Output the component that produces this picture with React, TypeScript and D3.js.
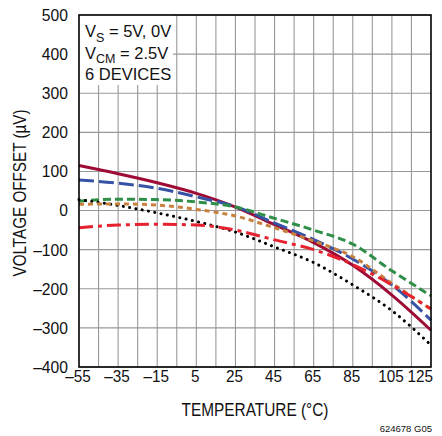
import React from "react";
import * as d3 from "d3";

const TEMPS = [-55, -35, -15, 5, 25, 45, 65, 85, 105, 125];
const DEV_SOLID = [115, 94, 71, 44, 9, -36, -82, -140, -216, -306];
const DEV_LONGDASH = [78, 70, 57, 35, 10, -32, -74, -124, -190, -280];
const DEV_GREEN = [24, 29, 28, 22, 9, -20, -50, -86, -154, -218];
const DEV_ORANGE = [16, 17, 14, 3, -14, -44, -78, -118, -186, -252];
const DEV_DASHDOT = [-44, -37, -35, -37, -50, -75, -100, -138, -190, -252];
const DEV_DOTTED = [28, 13, -6, -28, -55, -93, -133, -190, -256, -344];

const X_TICKS = [-55, -35, -15, 5, 25, 45, 65, 85, 105, 125];
const X_GRID = [-45, -35, -25, -15, -5, 5, 15, 25, 35, 45, 55, 65, 75, 85, 95, 105, 115];
const Y_TICKS = [500, 400, 300, 200, 100, 0, -100, -200, -300, -400];

const fmt = (v: number) => (v < 0 ? "\u2013" + Math.abs(v) : String(v));

const FONT = "'Liberation Sans', Arial, Helvetica, sans-serif";

function SText(props: {
  x: number;
  y: number;
  sx?: number;
  anchor?: "start" | "middle" | "end";
  size: number;
  dy?: string;
  children: React.ReactNode;
}) {
  const { x, y, sx = 1, anchor = "start", size, dy, children } = props;
  return (
    <text
      transform={`translate(${x},${y}) scale(${sx},1)`}
      textAnchor={anchor}
      fontSize={size}
      dy={dy}
      fill="#111"
    >
      {children}
    </text>
  );
}

export default function App() {
  const W = 442;
  const H = 436;
  const L = 79, R = 431, T = 15, B = 367;
  const x = d3.scaleLinear().domain([-55, 125]).range([L, R]);
  const y = d3.scaleLinear().domain([-400, 500]).range([B, T]);
  const line = d3
    .line<number>()
    .x((_, i) => x(TEMPS[i]))
    .y((d) => y(d))
    .curve(d3.curveMonotoneX);

  const series = [
    { data: DEV_SOLID, color: "#9e0b34", dash: undefined as string | undefined, cap: "butt" },
    { data: DEV_LONGDASH, color: "#3652a4", dash: "15,5", cap: "butt" },
    { data: DEV_GREEN, color: "#2f8f48", dash: "8,4", cap: "butt" },
    { data: DEV_DOTTED, color: "#000000", dash: "0.1,6.3", cap: "round" },
    { data: DEV_ORANGE, color: "#c8813d", dash: "5,4", cap: "butt" },
    { data: DEV_DASHDOT, color: "#e5222f", dash: "14,5,4,5", cap: "butt" },
  ];

  return (
    <svg
      width={W}
      height={H}
      style={{ position: "absolute", left: 0, top: 0, background: "#fff" }}
      fontFamily={FONT}
    >
      <rect x={0} y={0} width={W} height={H} fill="#fff" />
      {X_GRID.map((t) => (
        <line key={"gx" + t} x1={x(t)} x2={x(t)} y1={T} y2={B} stroke="#999" strokeWidth={1.1} />
      ))}
      {Y_TICKS.map((v) => (
        <line key={"gy" + v} x1={L} x2={R} y1={y(v)} y2={y(v)} stroke="#999" strokeWidth={1.1} />
      ))}
      <rect x={L} y={T} width={94} height={70} fill="#fff" />
      <text x={85} y={37} fontSize={16.5} fill="#111">
        V<tspan fontSize={12.5} dy={4.5}>S</tspan>
        <tspan dy={-4.5}> = 5V, 0V</tspan>
      </text>
      <text x={85} y={58.5} fontSize={16.5} fill="#111">
        V<tspan fontSize={12.5} dy={4.5}>CM</tspan>
        <tspan dy={-4.5}> = 2.5V</tspan>
      </text>
      <text x={85} y={79.5} fontSize={16.5} fill="#111">
        6 DEVICES
      </text>
      {series.map((s, i) => (
        <path
          key={i}
          d={line(s.data) || ""}
          fill="none"
          stroke={s.color}
          strokeWidth={3}
          strokeDasharray={s.dash}
          strokeLinecap={s.cap as any}
        />
      ))}
      <rect x={L} y={T} width={R - L} height={B - T} fill="none" stroke="#000" strokeWidth={1.6} />
      {Y_TICKS.map((v) => (
        <SText key={"yl" + v} x={68} y={y(v)} dy="0.36em" anchor="end" size={16.5} sx={0.95}>
          {fmt(v)}
        </SText>
      ))}
      {X_TICKS.map((t, i) => {
        const last = i === X_TICKS.length - 1;
        return (
          <SText
            key={"xl" + t}
            x={last ? 433 : x(t) - 1}
            y={382}
            anchor={last ? "end" : "middle"}
            size={17}
            sx={0.9}
          >
            {fmt(t)}
          </SText>
        );
      })}
      <text
        x={(L + R) / 2 + 0}
        y={416}
        textAnchor="middle"
        fontSize={18}
        fill="#111"
        textLength={147}
        lengthAdjust="spacingAndGlyphs"
      >
        TEMPERATURE (°C)
      </text>
      <text
        transform={`translate(26,${(T + B) / 2 + 2}) rotate(-90)`}
        textAnchor="middle"
        fontSize={18}
        fill="#111"
        textLength={167}
        lengthAdjust="spacingAndGlyphs"
      >
        VOLTAGE OFFSET (µV)
      </text>
      <text x={432} y={432} textAnchor="end" fontSize={9.5} fill="#111">
        624678 G05
      </text>
    </svg>
  );
}
